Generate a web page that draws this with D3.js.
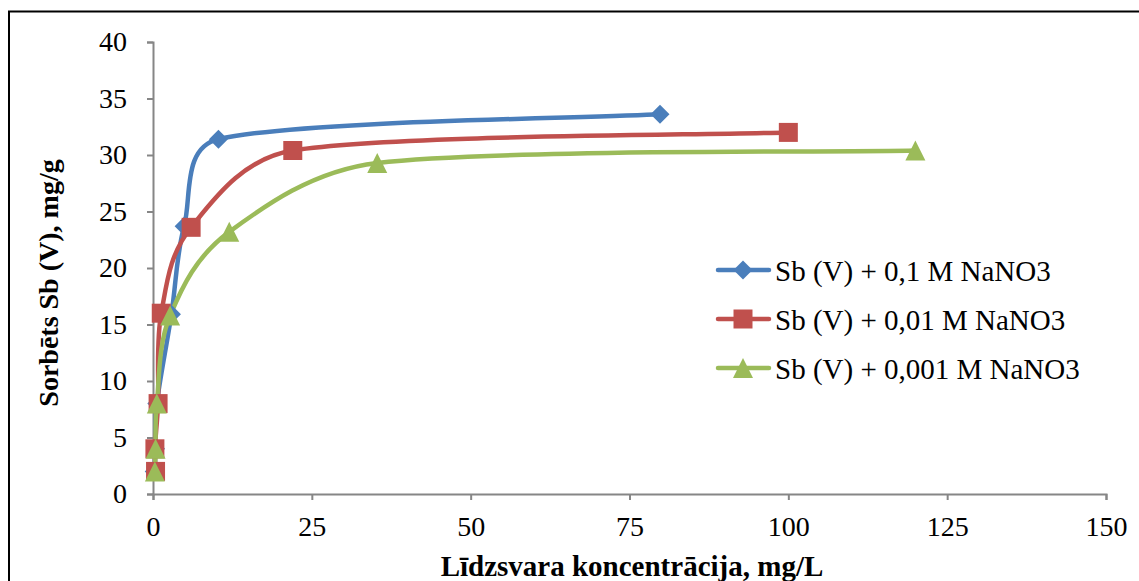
<!DOCTYPE html>
<html>
<head>
    <meta charset="utf-8">
    <script type="text/javascript" src="https://cdn.jsdelivr.net/npm/d3@7"></script>
    <style>
        body { margin: 0; background: white; }
    </style>
</head>
<body>
    <div id="chart"></div>
    <script type="text/javascript">

        // series: [x, y]
        let seriesNames = ["Sb (V) + 0,1 M NaNO3", "Sb (V) + 0,01 M NaNO3", "Sb (V) + 0,001 M NaNO3"];
        let blueX = [0.2, 0.4, 0.6, 2.9, 4.9, 10.3, 79.8];
        let blueY = [2.0, 4.0, 8.0, 15.9, 23.7, 31.4, 33.6];
        let redX = [0.4, 0.3, 0.8, 1.3, 6.0, 22.0, 100];
        let redY = [2.0, 4.0, 8.0, 16.0, 23.6, 30.4, 32.0];
        let greenX = [0.3, 0.4, 0.6, 2.7, 12.0, 35.3, 120];
        let greenY = [2.0, 4.0, 8.0, 15.8, 23.2, 29.3, 30.4];
        let xTicks = [0, 25, 50, 75, 100, 125, 150];
        let yTicks = [0, 5, 10, 15, 20, 25, 30, 35, 40];
        let colors = ["#4A7EBB", "#C0504D", "#9BBB59"];

        const FONT = "'Liberation Serif', 'Times New Roman', Times, serif";

        // excel style markers
        const diamond = {draw(ctx, size) {
            let r = Math.sqrt(size) / 2;
            ctx.moveTo(0, -r); ctx.lineTo(r, 0); ctx.lineTo(0, r); ctx.lineTo(-r, 0); ctx.closePath();
        }};
        const square = {draw(ctx, size) {
            let r = Math.sqrt(size) / 2;
            ctx.rect(-r, -r, 2 * r, 2 * r);
        }};
        const triangle = {draw(ctx, size) {
            let r = Math.sqrt(size) / 2;
            ctx.moveTo(0, -r); ctx.lineTo(r, r); ctx.lineTo(-r, r); ctx.closePath();
        }};
        let shapes = [diamond, square, triangle];
        let sizes = [19 * 19, 19 * 19, 20 * 20];

        const zip = (xs, ys) => xs.map((x, i) => [x, ys[i]]);
        let series = [zip(blueX, blueY), zip(redX, redY), zip(greenX, greenY)];

        let W = 1139, H = 581;
        let mLeft = 153, mRight = 1106, mTop = 42, mBottom = 494;

        let svg = d3.select("#chart")
            .append("svg")
            .attr("width", W)
            .attr("height", H)
            .style("font-family", FONT)
            .style("background-color", "white");

        // outer frame (runs off the right and bottom edges)
        svg.append("rect")
            .attr("x", 9).attr("y", 11.5)
            .attr("width", W + 20).attr("height", H + 20)
            .style("fill", "none")
            .style("stroke", "#000")
            .style("stroke-width", 2);

        let x = d3.scaleLinear().domain([0, 150]).range([mLeft, mRight]);
        let y = d3.scaleLinear().domain([0, 40]).range([mBottom, mTop]);

        let xAxis = svg.append("g")
            .attr("transform", `translate(0,${mBottom})`)
            .call(d3.axisBottom(x).tickValues(xTicks).tickSize(6).tickPadding(16));
        let yAxis = svg.append("g")
            .attr("transform", `translate(${mLeft},0)`)
            .call(d3.axisLeft(y).tickValues(yTicks).tickSize(6).tickPadding(20));

        [xAxis, yAxis].forEach(g => {
            g.attr("font-family", null).attr("font-size", null);
            g.select(".domain").style("stroke", "#868686").style("stroke-width", 2);
            g.selectAll(".tick line").style("stroke", "#868686").style("stroke-width", 2);
            g.selectAll(".tick text")
                .style("font-family", FONT)
                .style("font-size", "28px")
                .style("fill", "#000");
        });

        // axis titles
        svg.append("text")
            .attr("x", 632).attr("y", 576)
            .attr("text-anchor", "middle")
            .style("font-family", FONT)
            .style("font-size", "29px")
            .style("font-weight", "bold")
            .text("Līdzsvara koncentrācija, mg/L");

        svg.append("text")
            .attr("transform", "translate(58,283) rotate(-90)")
            .attr("text-anchor", "middle")
            .style("font-family", FONT)
            .style("font-size", "28px")
            .style("font-weight", "bold")
            .text("Sorbēts Sb (V), mg/g");

        // smoothed line like the spreadsheet: bezier with 1/6 tangents,
        // each control arm kept under 0.4 of its own segment
        const smoothPath = pts => {
            let p = pts.map(d => [x(d[0]), y(d[1])]);
            let n = p.length;
            let path = d3.path();
            path.moveTo(p[0][0], p[0][1]);
            const arm = (i, sign, segLen) => {
                let a = p[Math.max(i - 1, 0)], b = p[Math.min(i + 1, n - 1)];
                let dx = (b[0] - a[0]) / 6, dy = (b[1] - a[1]) / 6;
                let len = Math.hypot(dx, dy);
                let lim = segLen * 0.4;
                let k = len > lim ? lim / len : 1;
                return [p[i][0] + sign * dx * k, p[i][1] + sign * dy * k];
            };
            for (let i = 0; i < n - 1; i++) {
                let seg = Math.hypot(p[i + 1][0] - p[i][0], p[i + 1][1] - p[i][1]);
                let c1 = arm(i, 1, seg);
                let c2 = arm(i + 1, -1, seg);
                path.bezierCurveTo(c1[0], c1[1], c2[0], c2[1], p[i + 1][0], p[i + 1][1]);
            }
            return path.toString();
        };

        series.forEach((s, i) => {
            svg.append("path")
                .attr("d", smoothPath(s))
                .style("fill", "none")
                .style("stroke", colors[i])
                .style("stroke-width", 4.5);
        });

        series.forEach((s, i) => {
            svg.selectAll(null)
                .data(s)
                .enter()
                .append("path")
                .attr("transform", d => `translate(${x(d[0])},${y(d[1])})`)
                .attr("d", d3.symbol().type(shapes[i]).size(sizes[i]))
                .style("fill", colors[i]);
        });

        // legend
        let legend = svg.append("g");
        seriesNames.forEach((name, i) => {
            let ly = 270 + i * 49;
            legend.append("line")
                .attr("x1", 718).attr("x2", 769)
                .attr("y1", ly).attr("y2", ly)
                .style("stroke", colors[i])
                .style("stroke-width", 4.5)
                .style("stroke-linecap", "round");
            legend.append("path")
                .attr("transform", `translate(743,${ly})`)
                .attr("d", d3.symbol().type(shapes[i]).size(sizes[i]))
                .style("fill", colors[i]);
            legend.append("text")
                .attr("x", 775).attr("y", ly + 11)
                .style("font-family", FONT)
                .style("font-size", "29px")
                .text(name);
        });

    </script>
</body>
</html>
